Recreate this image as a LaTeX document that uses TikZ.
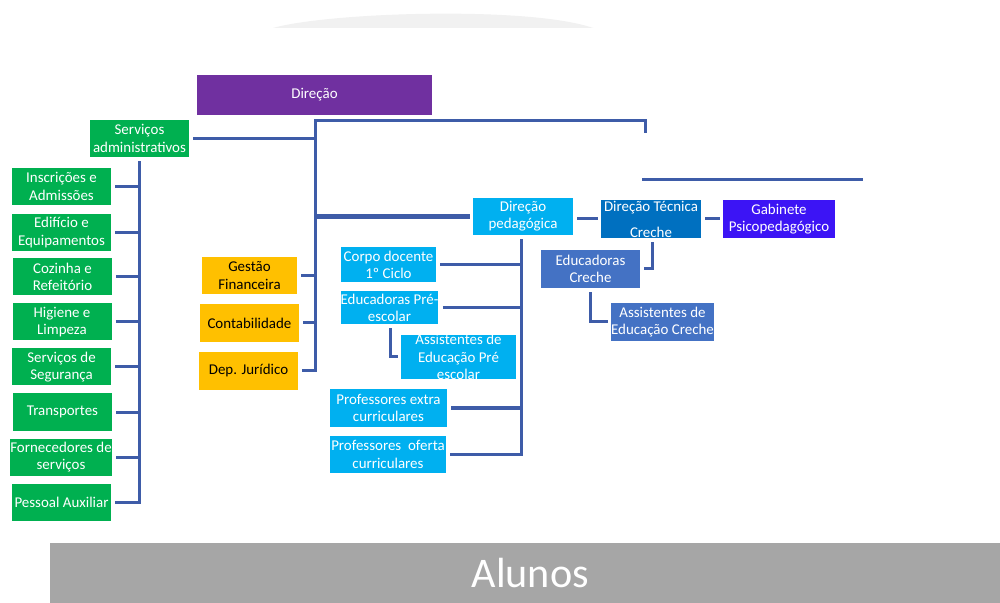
\documentclass[tikz,border=0pt]{standalone}
\usepackage{fontspec}
\setmainfont{Carlito}
\usetikzlibrary{calc}
\definecolor{lc}{RGB}{62,92,168}
\definecolor{purp}{HTML}{7030A0}
\definecolor{grn}{HTML}{00B050}
\definecolor{orng}{HTML}{FFC000}
\definecolor{lblue}{HTML}{00B0F0}
\definecolor{mblue}{HTML}{0070C0}
\definecolor{sblue}{HTML}{4472C4}
\definecolor{vblue}{RGB}{60,20,245}
\definecolor{agray}{HTML}{A6A6A6}
\definecolor{lgray}{HTML}{F1F1F1}
\begin{document}
\begin{tikzpicture}[x=0.2mm,y=-0.2mm,
  box/.style 2 args={rectangle, inner sep=0pt, minimum width=#1*0.2mm, minimum height=#2*0.2mm,
     align=center, font=\fontsize{8.5}{9.8}\selectfont, text=white},
  gbox/.style={box={99}{37}, fill=grn},
  conn/.style={draw=lc, line width=0.6mm},
  thick conn/.style={draw=lc, line width=1mm}]
\useasboundingbox (0,0) rectangle (1000,603);
\fill[white] (0,0) rectangle (1000,603);
% top decoration
\fill[lgray] (273,28) .. controls (330,12) and (530,6) .. (593,28) -- cycle;

% nodes
\node[box={235}{40}, fill=purp] (dir) at (314.5,95) {Direção};
\node[gbox] (sadm) at (139.5,138.5) {Serviços\\administrativos};
\node[gbox] (ins) at (61.5,186.5) {Inscrições e\\Admissões};
\node[gbox] (edi) at (61.5,232.5) {Edifício e\\Equipamentos};
\node[gbox] (coz) at (62.5,277) {Cozinha e\\Refeitório};
\node[gbox] (hig) at (62,322) {Higiene e\\Limpeza};
\node[gbox] (seg) at (61.5,367) {Serviços de\\Segurança};
\node[gbox] (tra) at (62.5,412) {Transportes};
\node[gbox, minimum width=100*0.2mm] (for) at (61,457) {Fornecedores de\\serviços};
\node[gbox] (pes) at (61.5,502) {Pessoal Auxiliar};

\node[box={95}{37}, fill=orng, text=black] (gf) at (249.5,275.5) {Gestão\\Financeira};
\node[box={99}{38}, fill=orng, text=black] (cont) at (249.5,323) {Contabilidade};
\node[box={99}{38}, fill=orng, text=black] (dj) at (248.5,371) {Dep. Jurídico};

\node[box={100}{37}, fill=lblue] (dp) at (523,216.5) {Direção\\pedagógica};
\node[box={95}{35}, fill=lblue] (cd) at (388.5,264.5) {Corpo docente\\1º Ciclo};
\node[box={95}{33}, fill=lblue] (ep) at (389.5,307.5) {Educadoras Pré-\\escolar};
\node[box={115}{44}, fill=lblue] (ap) at (458.5,357) {Assistentes de\\Educação Pré\\escolar};
\node[box={117}{38}, fill=lblue] (pe) at (388.5,408) {Professores extra\\curriculares};
\node[box={116}{37}, fill=lblue] (po) at (388,454.5) {Professores\ \ oferta\\curriculares};

\node[box={100}{38}, fill=mblue] (dt) at (651,219) {Direção Técnica\\[5pt]Creche};
\node[box={112}{38}, fill=vblue] (gab) at (779,219) {Gabinete\\Psicopedagógico};
\node[box={99}{38}, fill=sblue] (ec) at (590.5,269) {Educadoras\\Creche};
\node[box={99}{38}, fill=sblue] (ac) at (662.5,322) {Assistentes de\\Educação Creche};

\node[box={950}{60}, fill=agray, font=\fontsize{24}{28}\selectfont, text=white, text depth=0pt] (al) at (525,573) {\hspace*{6pt}Alunos};

% coordinates
\coordinate (lt) at (139,0);
\coordinate (t1) at (315,121);
\coordinate (t2) at (645,121);
\coordinate (t3) at (645,133);
\coordinate (u1) at (643,178);
\coordinate (u2) at (643,180);
\coordinate (u3) at (863,180);
\coordinate (pt) at (521,0);
\coordinate (et) at (390,0);
\coordinate (ct) at (652,0);

% main trunk
\draw[conn] (t3) -- (t2) -- (t1) -- (t1 |- dj.east) -- ([xshift=0.8mm]dj.east);
\draw[conn] (u1) -- (u2) -- (u3);
\draw[conn] ([xshift=0.8mm]sadm.east) -- (sadm.east -| t1);
\draw[conn] ([xshift=0.8mm]gf.east) -- (gf.east -| t1);
\draw[conn] ([xshift=0.8mm]cont.east) -- (cont.east -| t1);
\draw[thick conn] (t1 |- dp.west) -- ([xshift=-0.6mm]dp.west);

% left trunk
\draw[conn] ([yshift=-0.8mm]sadm.south -| lt) -- (lt |- pes.east) -- ([xshift=0.8mm]pes.east);
\foreach \b in {ins,edi,coz,hig,seg,tra,for}
  \draw[conn] ([xshift=0.8mm]\b.east) -- (\b.east -| lt);

% pedagogical trunk
\draw[conn] ([yshift=-0.8mm]dp.south -| pt) -- (pt |- po.east) -- ([xshift=0.8mm]po.east);
\foreach \b in {cd,ep,pe}
  \draw[conn] ([xshift=0.8mm]\b.east) -- (\b.east -| pt);
\draw[conn] ([yshift=-0.8mm]ep.south -| et) -- (et |- ap.west) -- ([xshift=-0.6mm]ap.west);

% creche
\draw[conn] ([xshift=0.8mm]dp.east |- dt.west) -- ([xshift=-0.6mm]dt.west);
\draw[conn] ([xshift=0.8mm]dt.east) -- ([xshift=-0.6mm]gab.west);
\draw[conn] ([yshift=-0.8mm]dt.south -| ct) -- (ct |- ec.east) -- ([xshift=0.8mm]ec.east);
\draw[conn] ([yshift=-0.8mm]ec.south) -- (ec.south |- ac.west) -- ([xshift=-0.6mm]ac.west);
\end{tikzpicture}
\end{document}
